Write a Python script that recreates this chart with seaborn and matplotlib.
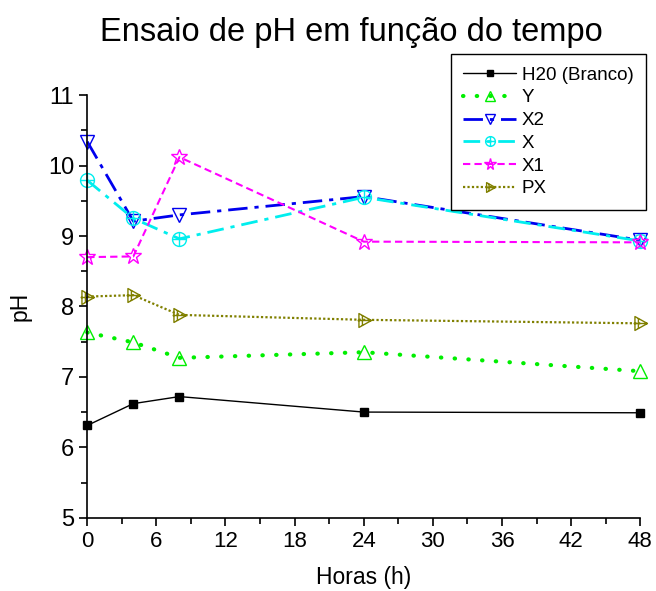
import numpy as np
import pandas as pd
import seaborn as sns
import matplotlib.pyplot as plt
from matplotlib.path import Path
from matplotlib.ticker import MultipleLocator

# Data
horas = [0, 4, 8, 24, 48]
h20 = [6.31, 6.62, 6.72, 6.50, 6.49]
y_vals = [7.63, 7.49, 7.27, 7.35, 7.08]
x2 = [10.34, 9.21, 9.30, 9.56, 8.94]
x_vals = [9.79, 9.25, 8.96, 9.55, 8.93]
x1 = [8.70, 8.71, 10.12, 8.92, 8.91]
px = [8.14, 8.16, 7.88, 7.81, 7.76]

series_names = ["H20 (Branco)", "Y", "X2", "X", "X1", "PX"]
series_values = [h20, y_vals, x2, x_vals, x1, px]

df = pd.DataFrame({
    "horas": horas * len(series_names),
    "ph": np.concatenate(series_values),
    "serie": np.repeat(series_names, len(horas)),
})

# custom markers: circle with cross, right triangle with cross
circ = Path.unit_circle()
cross = Path([[-1, 0], [1, 0], [0, -1], [0, 1]],
             [Path.MOVETO, Path.LINETO, Path.MOVETO, Path.LINETO])
circle_plus = Path.make_compound_path(circ, cross)
tri = Path([[-0.8, -1], [1, 0], [-0.8, 1], [-0.8, -1]],
           [Path.MOVETO, Path.LINETO, Path.LINETO, Path.CLOSEPOLY])
cross2 = Path([[-1, 0], [1, 0], [-0.3, -0.75], [-0.3, 0.75]],
              [Path.MOVETO, Path.LINETO, Path.MOVETO, Path.LINETO])
tri_plus = Path.make_compound_path(tri, cross2)

styles = {
    "H20 (Branco)": dict(color="black", marker="s", ms=6, mfc="black", lw=1.0, ls="-"),
    "Y": dict(color="#00ee00", marker="^", ms=10, mfc="none", lw=3.0, ls=(0, (0.1, 3.2)),
              dash_capstyle="round"),
    "X2": dict(color="#0000ee", marker="v", ms=10, mfc="none", lw=2.0, ls=(0, (7, 2.5, 1.5, 2.5))),
    "X": dict(color="#00eeee", marker=circle_plus, ms=10, mfc="none", lw=2.0, ls=(0, (6, 2.5, 1.5, 2.5))),
    "X1": dict(color="#ff00ff", marker="*", ms=12, mfc="none", lw=1.5, ls=(0, (3.5, 2))),
    "PX": dict(color="#808000", marker=tri_plus, ms=10, mfc="none", lw=1.6, ls=(0, (1, 1))),
}

sns.set_style("ticks")
plt.rcParams["font.family"] = ["Liberation Sans", "DejaVu Sans"]
plt.rcParams["text.color"] = "black"
plt.rcParams["axes.labelcolor"] = "black"
plt.rcParams["xtick.color"] = "black"
plt.rcParams["ytick.color"] = "black"

fig = plt.figure(figsize=(6.56, 5.91), dpi=100)
ax = fig.add_axes([0.133, 0.124, 0.843, 0.715])

for name in series_names:
    st = dict(styles[name])
    mfc = st.pop("mfc")
    sub = df[df["serie"] == name]
    sns.lineplot(data=sub, x="horas", y="ph", ax=ax, label=name,
                 markerfacecolor=mfc, markeredgecolor=st["color"],
                 markeredgewidth=1.0, clip_on=False, **st)

ax.set_xlim(0, 48)
ax.set_ylim(5, 11)
ax.xaxis.set_major_locator(MultipleLocator(6))
ax.xaxis.set_minor_locator(MultipleLocator(3))
ax.yaxis.set_major_locator(MultipleLocator(1))
ax.yaxis.set_minor_locator(MultipleLocator(0.5))
ax.tick_params(which="major", direction="out", length=6, width=1.2, labelsize=16, color="black")
ax.tick_params(which="minor", direction="out", length=4, width=1.2, color="black")
ax.tick_params(axis="y", labelsize=17)
for s in ["top", "right"]:
    ax.spines[s].set_visible(False)
for s in ["left", "bottom"]:
    ax.spines[s].set_linewidth(1.2)
    ax.spines[s].set_color("black")

ax.set_xlabel("Horas (h)", fontsize=16.5, labelpad=10)
ax.set_ylabel("pH", fontsize=16.5, labelpad=12)

fig.text(0.535, 0.945, "Ensaio de pH em função do tempo", ha="center", va="center", fontsize=23.5)

leg = ax.legend(loc="upper right", bbox_to_anchor=(0.984, 0.908), bbox_transform=fig.transFigure,
                borderaxespad=0, fontsize=13.5, frameon=True, fancybox=False, edgecolor="black",
                framealpha=1, handlelength=2.8, labelspacing=0.3, borderpad=0.65,
                handletextpad=0.3, markerscale=0.7)
leg.get_frame().set_linewidth(1.0)

fig.savefig("out.png", dpi=100)
